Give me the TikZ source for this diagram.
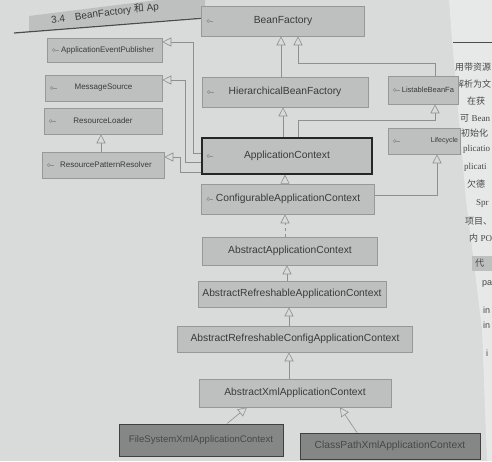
\documentclass[tikz,border=0pt]{standalone}
\usepackage{fontspec}
\setmainfont{Liberation Sans}
\newfontfamily\cjk{Noto Sans CJK SC}
\newfontfamily\serifl{Liberation Serif}
\usetikzlibrary{arrows.meta,calc}
\definecolor{pagebg}{HTML}{D8DBD9}
\definecolor{rightpg}{HTML}{E7E9E8}
\definecolor{boxfill}{HTML}{BDC0BE}
\definecolor{boxline}{HTML}{979998}
\definecolor{darkfill}{HTML}{858786}
\definecolor{linecol}{HTML}{8E908F}
\definecolor{txt}{HTML}{3A3A3A}
\begin{document}
\begin{tikzpicture}[x=1pt,y=-1pt,
  box/.style={draw=boxline, fill=boxfill, line width=0.6pt, inner sep=0pt, text=txt, font=\fontsize{10.3}{12}\selectfont},
  smallbox/.style={box, font=\fontsize{8}{9}\selectfont},
  keybox/.style={box, draw=black!85, line width=1.4pt},
  darkbox/.style={box, fill=darkfill, draw=black!75, line width=1pt, text=black!72},
  gen/.style={draw=linecol, line width=0.6pt, -{Triangle[length=9pt,width=9pt,fill=pagebg]}},
  rp/.style={font=\fontsize{9}{10}\selectfont, text=black!72, inner sep=0pt, anchor=west},
  icon/.style={draw=linecol, line width=0.5pt}
]
\useasboundingbox (0,0) rectangle (492,461);
\fill[pagebg] (0,0) rectangle (492,461);
% right page
\fill[rightpg] (449,0) -- (452,40) -- (459,120) -- (466,200) -- (473,255) -- (482,330) -- (487,461) -- (492,461) -- (492,0) -- cycle;
\draw[black!70, line width=1pt] (453,42) -- (492,42);
\fill[boxfill] (472,256) rectangle (492,271);
\node[rp] (r1) at (455,67) {\cjk 用带资源};
\node[rp] (r2) at (455,84) {\cjk 解析为文};
\node[rp] (r3) at (467,101) {\cjk 在获};
\node[rp] (r4) at (460,118) {{\cjk 可} \serifl Bean};
\node[rp] (r5) at (461,133) {\cjk 初始化};
\node[rp] (r6) at (463,149) {\serifl plicatio};
\node[rp] (r7) at (464,167) {\serifl plicati};
\node[rp] (r8) at (467,184) {\cjk 欠德};
\node[rp] (r9) at (476,203) {\serifl Spr};
\node[rp] (r10) at (465,221) {\cjk 项目、};
\node[rp] (r11) at (469,238) {{\cjk 内} \serifl PO};
\node[rp] (r12) at (475,263) {\cjk 代};
\node[rp] (r13) at (482,284) {pa};
\node[rp] (r14) at (483,310) {in};
\node[rp] (r15) at (483,325) {in};
\node[rp] (r16) at (486,353) {i};
% header
\fill[boxfill] (29,31) -- (29,16) -- (205,-6) -- (205,17) -- cycle;
\draw[black!70, line width=1.2pt] (14,33) -- (205,18);
\node[rotate=7, anchor=west, inner sep=0pt, text=txt, font=\fontsize{10}{12}\selectfont] (hd) at (51,20) {3.4\hspace{10pt}BeanFactory {\cjk 和} Ap};
% boxes
\node[box, minimum width=163, minimum height=30] (bf) at (283,21) {BeanFactory};
\node[box, minimum width=166, minimum height=30] (hbf) at (285,92) {HierarchicalBeanFactory};
\node[box, minimum width=70, minimum height=28, font=\fontsize{7.5}{9}\selectfont, text width=62, align=right] (lbf) at (423,90) {ListableBeanFa};
\node[keybox, minimum width=170, minimum height=36] (ac) at (287,156) {ApplicationContext};
\node[box, minimum width=72, minimum height=26, font=\fontsize{7}{8}\selectfont, text width=68, align=right] (lc) at (424,141) {Lifecycle};
\node[box, minimum width=173, minimum height=30] (cac) at (288,199) {ConfigurableApplicationContext};
\node[box, minimum width=175, minimum height=28] (aac) at (290,251) {AbstractApplicationContext};
\node[box, minimum width=188, minimum height=26] (arac) at (292,294) {AbstractRefreshableApplicationContext};
\node[box, minimum width=235, minimum height=26] (arcac) at (295,339) {AbstractRefreshableConfigApplicationContext};
\node[box, minimum width=192, minimum height=28] (axac) at (295,393) {AbstractXmlApplicationContext};
\node[darkbox, minimum width=164, minimum height=32, font=\fontsize{9.6}{11}\selectfont] (fsxac) at (201,440) {FileSystemXmlApplicationContext};
\node[darkbox, minimum width=180, minimum height=26] (cpxac) at (390,446) {ClassPathXmlApplicationContext};
\node[smallbox, minimum width=115, minimum height=24] (aep) at (104.5,50) {\hspace{6pt}ApplicationEventPublisher};
\node[smallbox, minimum width=117, minimum height=26] (ms) at (103.5,88) {MessageSource};
\node[smallbox, minimum width=118, minimum height=26] (rl) at (103,121) {ResourceLoader};
\node[smallbox, minimum width=122, minimum height=26] (rpr) at (103,165) {\hspace{6pt}ResourcePatternResolver};
% interface icons
\foreach \n in {bf,hbf,lbf,ac,lc,cac,aep,ms,rl,rpr} {
  \draw[icon] ($(\n.west)+(7,0)$) circle[radius=1.5pt];
  \draw[icon] ($(\n.west)+(8.5,0)$) -- ($(\n.west)+(12,0)$);
}
% connectors
\coordinate (xa) at (281,0);
\draw[gen] (xa |- hbf.north) -- (xa |- bf.south);
\coordinate (xb) at (283,0);
\draw[gen] (xb |- ac.north) -- (xb |- hbf.south);
\coordinate (j1) at (298,63);
\coordinate (xl) at (435,0);
\draw[gen] (xl |- lbf.north) |- (j1) -- (j1 |- bf.south);
\coordinate (j2) at (298,120);
\draw[gen] (j2 |- ac.north) -- (j2) -| (xl |- lbf.south);
\coordinate (xlc) at (437,0);
\coordinate (j3) at (0,195);
\draw[gen] (j3 -| cac.east) -| (xlc |- lc.south);
\coordinate (xc) at (285,0);
\draw[gen] (xc |- cac.north) -- (xc |- ac.south);
\draw[gen, dashed] (xc |- aac.north) -- (xc |- cac.south);
\coordinate (xd) at (287,0);
\draw[gen] (xd |- arac.north) -- (xd |- aac.south);
\coordinate (xe) at (289,0);
\draw[gen] (xe |- arcac.north) -- (xe |- arac.south);
\draw[gen] (xe |- axac.north) -- (xe |- arcac.south);
\draw[gen] ($(fsxac.north)+(26,0)$) -- ($(axac.south)+(-48,0)$);
\draw[gen] ($(cpxac.north)+(-33,0)$) -- ($(axac.south)+(45,0)$);
\coordinate (k1) at (193,42);
\draw[gen] ($(ac.west)+(0,-3)$) -| (k1) -- (k1 -| aep.east);
\coordinate (k2) at (185,80);
\draw[gen] ($(ac.west)+(0,6)$) -| (k2) -- (k2 -| ms.east);
\coordinate (k3) at (180,157);
\draw[gen] ($(ac.west)+(0,16)$) -| (k3) -- (k3 -| rpr.east);
\coordinate (xr) at (101,0);
\draw[gen] (xr |- rpr.north) -- (xr |- rl.south);
\end{tikzpicture}
\end{document}
